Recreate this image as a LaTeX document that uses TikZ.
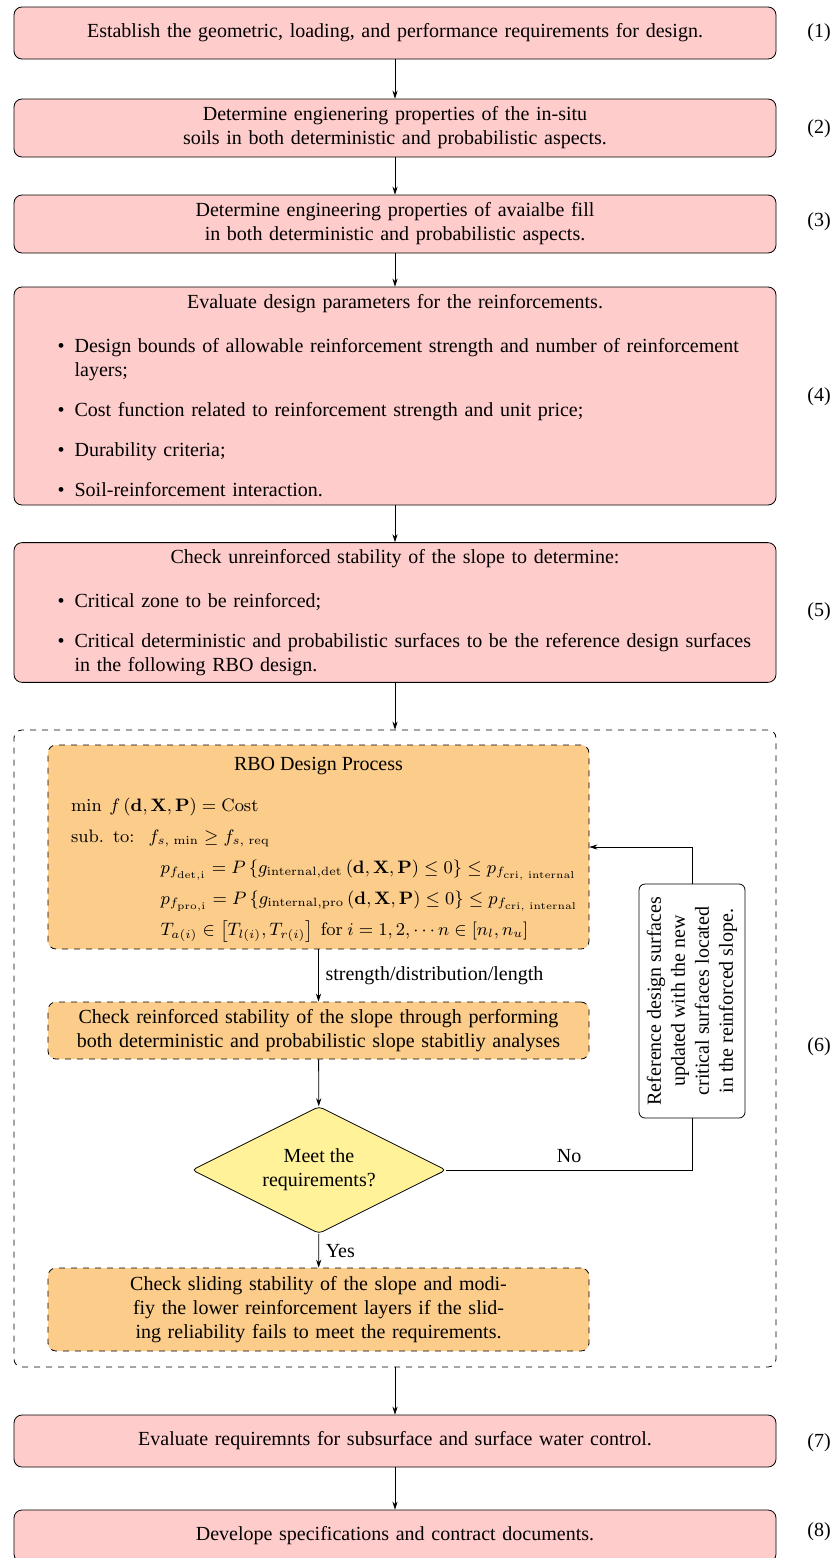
\documentclass[tikz,border=0pt]{standalone}
\usepackage[no-math]{fontspec}
\setmainfont{Liberation Serif}
\usepackage{amsmath}
\usetikzlibrary{shapes.geometric,arrows.meta}

\definecolor{stepfill}{RGB}{255,204,204}
\definecolor{rbofill}{RGB}{252,204,138}
\definecolor{askfill}{RGB}{255,242,153}

\begin{document}
\begin{tikzpicture}[x=0.5pt, y=-0.5pt, >={Stealth[length=4pt,width=2.6pt]},
    stepbox/.style={draw, fill=stepfill, rounded corners=4pt, text width=370.4pt,
        inner xsep=5.3pt, align=center},
    listbox/.style={stepbox, align=left},
    rbobox/.style={draw, dashed, fill=rbofill, rounded corners=4pt, text width=260.5pt,
        inner xsep=5pt, align=center},
    askbox/.style={draw, fill=askfill, shape=diamond, aspect=2, rounded corners=2pt,
        inner sep=0pt, minimum width=127pt, minimum height=63.5pt, align=center}]

    \useasboundingbox (0,0) rectangle (836,1558);

    % the RBO loop frame
    \node[draw, dashed, rounded corners=4pt, minimum width=381pt, minimum height=318.5pt]
        (loop) at (395,1048.5) {};

    \node[stepbox, minimum height=26pt] (b1) at (395,33)
        {Establish the geometric, loading, and performance requirements for design.};
    \node[stepbox, minimum height=29pt] (b2) at (395,128)
        {Determine engienering properties of the in-situ\\
         soils in both deterministic and probabilistic aspects.};
    \node[stepbox, minimum height=29pt] (b3) at (395,224)
        {Determine engineering properties of avaialbe fill\\
         in both deterministic and probabilistic aspects.};
    \node[listbox, minimum height=109pt] (b4) at (395,396)
        {{\centering Evaluate design parameters for the reinforcements.\par}
         \begin{itemize}
         \item Design bounds of allowable reinforcement strength and number of reinforcement layers;
         \item Cost function related to reinforcement strength and unit price;
         \item Durability criteria;
         \item Soil-reinforcement interaction.
         \end{itemize}};
    \node[listbox, minimum height=69.5pt] (b5) at (395,612.5)
        {{\centering Check unreinforced stability of the slope to determine:\par}
         \begin{itemize}
         \item Critical zone to be reinforced;
         \item Critical deterministic and probabilistic surfaces to be the reference design surfaces in the following RBO design.
         \end{itemize}};

    % inside the loop
    \node[draw, dashed, fill=rbofill, rounded corners=4pt, minimum width=270.5pt,
        minimum height=102pt, inner sep=0pt] (rbo) at (318.5,847)
        {\fontsize{9}{12}\selectfont\renewcommand{\arraystretch}{1.29}%
         \begin{tabular}{@{\hspace{6pt}}l@{\hspace{7pt}}l@{}}
         \multicolumn{2}{c}{\fontsize{10}{12}\selectfont RBO Design Process}\\[5pt]
         \multicolumn{2}{@{\hspace{6pt}}l@{}}{$\min\ f\left(\mathbf{d},\mathbf{X},\mathbf{P}\right)=\mathrm{Cost}$}\\
         $\mathrm{sub.\ \ to}{:}$ & $f_{s,\ \min}\geq f_{s,\ \mathrm{req}}$\\
         & \hspace*{6pt}$p_{f_{\mathrm{det,i}}}=P\left\{g_{\mathrm{internal,det}}\left(\mathbf{d},\mathbf{X},\mathbf{P}\right)\leq 0\right\}\leq p_{f_{\mathrm{cri,\ internal}}}$\\
         & \hspace*{6pt}$p_{f_{\mathrm{pro,i}}}=P\left\{g_{\mathrm{internal,pro}}\left(\mathbf{d},\mathbf{X},\mathbf{P}\right)\leq 0\right\}\leq p_{f_{\mathrm{cri,\ internal}}}$\\
         & \hspace*{6pt}$T_{a(i)}\in\left[T_{l(i)},T_{r(i)}\right]\ \mathrm{for}\ i=1,2,\cdots n\in\left[n_l,n_u\right]$
         \end{tabular}};
    \node[rbobox, minimum height=28.5pt] (check) at (318.5,1030.5)
        {Check reinforced stability of the slope through performing\\
         both deterministic and probabilistic slope stabitliy analyses};
    \node[askbox] (ask) at (319,1170) {Meet the\\requirements?};
    \node[rbobox, minimum height=41.5pt] (slide) at (318.5,1309.5)
        {Check sliding stability of the slope and modi-\\
         fiy the lower reinforcement layers if the slid-\\
         ing reliability fails to meet the requirements.};
    \node[draw, fill=white, rounded corners=3pt, rotate=90, align=center,
        minimum width=117pt, minimum height=53pt, inner sep=2pt] (note) at (692,1001)
        {Reference design surfaces\\updated with the new\\critical surfaces located\\in the reinforced slope.};

    \node[stepbox, minimum height=26pt] (b7) at (395,1441)
        {Evaluate requiremnts for subsurface and surface water control.};
    \node[stepbox, minimum height=26pt] (b8) at (395,1536)
        {Develope specifications and contract documents.};

    % step numbers
    \foreach \k/\y in {1/33, 2/129, 3/222, 4/397, 5/612, 6/1047, 7/1443, 8/1532}
        \node (lab\k) at (819,\y) {(\k)};

    \draw[->] (b1) -- (b2);
    \draw[->] (b2) -- (b3);
    \draw[->] (b3) -- (b4);
    \draw[->] (b4) -- (b5);
    \draw[->] (b5) -- (loop);
    \draw[->] (rbo) -- node[right] {strength/distribution/length} (check);
    \draw[->] (check) -- (ask);
    \draw[->] (ask) -- node[right] {Yes} (slide);
    \draw (ask.east) -| node[pos=0.25, above] {No} (note.west);
    \draw[->] (note.east) |- (rbo.east);
    \draw[->] (loop) -- (b7);
    \draw[->] (b7) -- (b8);
\end{tikzpicture}
\end{document}
